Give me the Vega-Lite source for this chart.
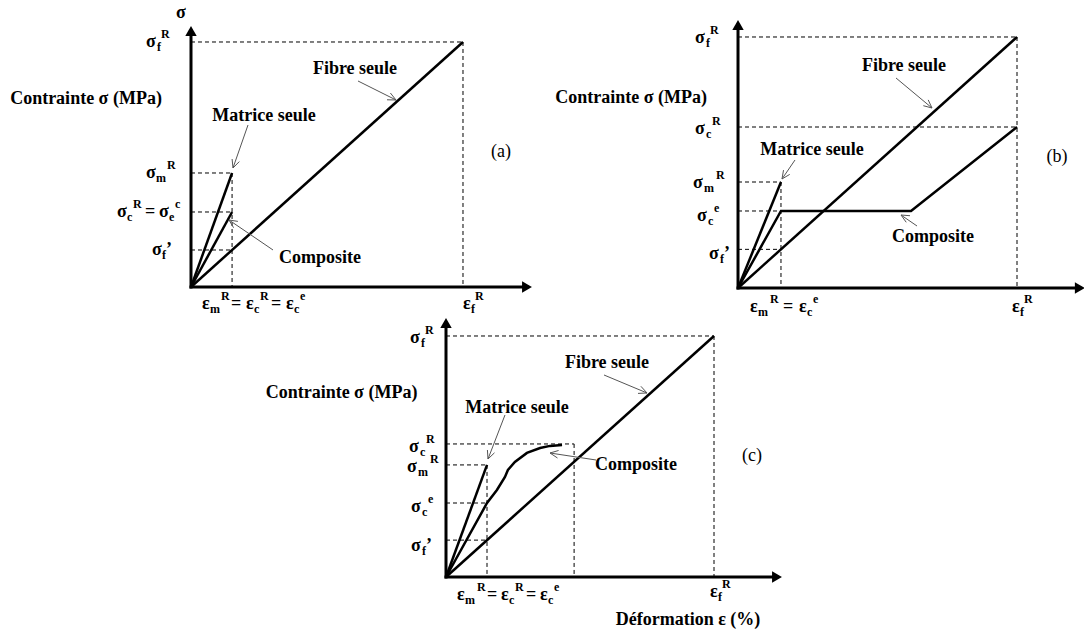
{
"$schema": "https://vega.github.io/schema/vega-lite/v6.json",
"padding": 0,
"width": 1084,
"height": 631,
"background": "white",
"config": {"view": {"stroke": null}, "text": {"font": "'Times New Roman', 'Liberation Serif', 'DejaVu Serif', serif"}},
"datasets": {
"lines": [
{"p":"a","id":"a_ax1","k":"axis","o":0,"x":0,"y":0},{"p":"a","id":"a_ax1","k":"axis","o":1,"x":0,"y":10.449},
{"p":"a","id":"a_ax2","k":"axis","o":0,"x":0,"y":0},{"p":"a","id":"a_ax2","k":"axis","o":1,"x":12.353,"y":0},
{"p":"a","id":"a_f","k":"curve","o":0,"x":0,"y":0},{"p":"a","id":"a_f","k":"curve","o":1,"x":10,"y":10},
{"p":"a","id":"a_m","k":"curve","o":0,"x":0,"y":0},{"p":"a","id":"a_m","k":"curve","o":1,"x":1.51,"y":4.653},
{"p":"a","id":"a_c","k":"curve","o":0,"x":0,"y":0},{"p":"a","id":"a_c","k":"curve","o":1,"x":1.51,"y":3.061},
{"p":"a","id":"a_d1","k":"dash","o":0,"x":0,"y":10},{"p":"a","id":"a_d1","k":"dash","o":1,"x":10,"y":10},
{"p":"a","id":"a_d2","k":"dash","o":0,"x":10,"y":10},{"p":"a","id":"a_d2","k":"dash","o":1,"x":10,"y":0},
{"p":"a","id":"a_d3","k":"dash","o":0,"x":0,"y":4.653},{"p":"a","id":"a_d3","k":"dash","o":1,"x":1.51,"y":4.653},
{"p":"a","id":"a_d4","k":"dash","o":0,"x":1.51,"y":4.653},{"p":"a","id":"a_d4","k":"dash","o":1,"x":1.51,"y":0},
{"p":"a","id":"a_d5","k":"dash","o":0,"x":0,"y":3.061},{"p":"a","id":"a_d5","k":"dash","o":1,"x":1.51,"y":3.061},
{"p":"a","id":"a_d6","k":"dash","o":0,"x":0,"y":1.51},{"p":"a","id":"a_d6","k":"dash","o":1,"x":1.51,"y":1.51},
{"p":"a","id":"a_p1","k":"ptr","o":0,"x":6.140,"y":8.408},{"p":"a","id":"a_p1","k":"ptr","o":1,"x":7.537,"y":7.633},
{"p":"a","id":"a_h1","k":"ptr","o":0,"x":7.331,"y":7.918},{"p":"a","id":"a_h1","k":"ptr","o":1,"x":7.537,"y":7.633},{"p":"a","id":"a_h1","k":"ptr","o":2,"x":7.206,"y":7.641},
{"p":"a","id":"a_p2","k":"ptr","o":0,"x":2.096,"y":6.612},{"p":"a","id":"a_p2","k":"ptr","o":1,"x":1.544,"y":4.857},
{"p":"a","id":"a_h2","k":"ptr","o":0,"x":1.776,"y":5.118},{"p":"a","id":"a_h2","k":"ptr","o":1,"x":1.544,"y":4.857},{"p":"a","id":"a_h2","k":"ptr","o":2,"x":1.511,"y":5.224},
{"p":"a","id":"a_p3","k":"ptr","o":0,"x":3.015,"y":1.510},{"p":"a","id":"a_p3","k":"ptr","o":1,"x":1.397,"y":2.735},
{"p":"a","id":"a_h3","k":"ptr","o":0,"x":1.566,"y":2.420},{"p":"a","id":"a_h3","k":"ptr","o":1,"x":1.397,"y":2.735},{"p":"a","id":"a_h3","k":"ptr","o":2,"x":1.724,"y":2.678},

{"p":"b","id":"b_ax1","k":"axis","o":0,"x":0,"y":0},{"p":"b","id":"b_ax1","k":"axis","o":1,"x":0,"y":10.478},
{"p":"b","id":"b_ax2","k":"axis","o":0,"x":0,"y":0},{"p":"b","id":"b_ax2","k":"axis","o":1,"x":12.25,"y":0},
{"p":"b","id":"b_f","k":"curve","o":0,"x":0,"y":0},{"p":"b","id":"b_f","k":"curve","o":1,"x":10,"y":10},
{"p":"b","id":"b_m","k":"curve","o":0,"x":0,"y":0},{"p":"b","id":"b_m","k":"curve","o":1,"x":1.54,"y":4.223},
{"p":"b","id":"b_c","k":"curve","o":0,"x":0,"y":0},{"p":"b","id":"b_c","k":"curve","o":1,"x":1.54,"y":3.068},{"p":"b","id":"b_c","k":"curve","o":2,"x":6.201,"y":3.068},{"p":"b","id":"b_c","k":"curve","o":3,"x":10,"y":6.414},
{"p":"b","id":"b_d1","k":"dash","o":0,"x":0,"y":10},{"p":"b","id":"b_d1","k":"dash","o":1,"x":10,"y":10},
{"p":"b","id":"b_d2","k":"dash","o":0,"x":10,"y":10},{"p":"b","id":"b_d2","k":"dash","o":1,"x":10,"y":0},
{"p":"b","id":"b_d3","k":"dash","o":0,"x":0,"y":6.414},{"p":"b","id":"b_d3","k":"dash","o":1,"x":10,"y":6.414},
{"p":"b","id":"b_d4","k":"dash","o":0,"x":0,"y":4.223},{"p":"b","id":"b_d4","k":"dash","o":1,"x":1.54,"y":4.223},
{"p":"b","id":"b_d5","k":"dash","o":0,"x":1.54,"y":4.223},{"p":"b","id":"b_d5","k":"dash","o":1,"x":1.54,"y":0},
{"p":"b","id":"b_d6","k":"dash","o":0,"x":0,"y":3.068},{"p":"b","id":"b_d6","k":"dash","o":1,"x":1.54,"y":3.068},
{"p":"b","id":"b_d7","k":"dash","o":0,"x":0,"y":1.54},{"p":"b","id":"b_d7","k":"dash","o":1,"x":1.54,"y":1.54},
{"p":"b","id":"b_p1","k":"ptr","o":0,"x":5.663,"y":8.367},{"p":"b","id":"b_p1","k":"ptr","o":1,"x":6.953,"y":7.171},
{"p":"b","id":"b_h1","k":"ptr","o":0,"x":6.817,"y":7.494},{"p":"b","id":"b_h1","k":"ptr","o":1,"x":6.953,"y":7.171},{"p":"b","id":"b_h1","k":"ptr","o":2,"x":6.642,"y":7.263},
{"p":"b","id":"b_p2","k":"ptr","o":0,"x":2.043,"y":5.100},{"p":"b","id":"b_p2","k":"ptr","o":1,"x":1.577,"y":4.343},
{"p":"b","id":"b_h2","k":"ptr","o":0,"x":1.853,"y":4.526},{"p":"b","id":"b_h2","k":"ptr","o":1,"x":1.577,"y":4.343},{"p":"b","id":"b_h2","k":"ptr","o":2,"x":1.631,"y":4.697},
{"p":"b","id":"b_p3","k":"ptr","o":0,"x":6.416,"y":2.470},{"p":"b","id":"b_p3","k":"ptr","o":1,"x":5.842,"y":2.908},
{"p":"b","id":"b_h3","k":"ptr","o":0,"x":6.029,"y":2.618},{"p":"b","id":"b_h3","k":"ptr","o":1,"x":5.842,"y":2.908},{"p":"b","id":"b_h3","k":"ptr","o":2,"x":6.165,"y":2.880},

{"p":"c","id":"c_ax1","k":"axis","o":0,"x":0,"y":0},{"p":"c","id":"c_ax1","k":"axis","o":1,"x":0,"y":10.539},
{"p":"c","id":"c_ax2","k":"axis","o":0,"x":0,"y":0},{"p":"c","id":"c_ax2","k":"axis","o":1,"x":12.351,"y":0},
{"p":"c","id":"c_f","k":"curve","o":0,"x":0,"y":0},{"p":"c","id":"c_f","k":"curve","o":1,"x":10,"y":10},
{"p":"c","id":"c_m","k":"curve","o":0,"x":0,"y":0},{"p":"c","id":"c_m","k":"curve","o":1,"x":1.53,"y":4.65},
{"p":"c","id":"c_c","k":"curve","o":0,"x":0,"y":0},{"p":"c","id":"c_c","k":"curve","o":1,"x":1.53,"y":3.07},{"p":"c","id":"c_c","k":"curve","o":2,"x":1.90,"y":3.61},{"p":"c","id":"c_c","k":"curve","o":3,"x":2.20,"y":4.15},{"p":"c","id":"c_c","k":"curve","o":4,"x":2.31,"y":4.44},{"p":"c","id":"c_c","k":"curve","o":5,"x":2.57,"y":4.77},{"p":"c","id":"c_c","k":"curve","o":6,"x":3.02,"y":5.15},{"p":"c","id":"c_c","k":"curve","o":7,"x":3.51,"y":5.35},{"p":"c","id":"c_c","k":"curve","o":8,"x":3.88,"y":5.44},{"p":"c","id":"c_c","k":"curve","o":9,"x":4.33,"y":5.48},
{"p":"c","id":"c_d1","k":"dash","o":0,"x":0,"y":10},{"p":"c","id":"c_d1","k":"dash","o":1,"x":10,"y":10},
{"p":"c","id":"c_d2","k":"dash","o":0,"x":10,"y":10},{"p":"c","id":"c_d2","k":"dash","o":1,"x":10,"y":0},
{"p":"c","id":"c_d3","k":"dash","o":0,"x":0,"y":5.52},{"p":"c","id":"c_d3","k":"dash","o":1,"x":4.78,"y":5.52},
{"p":"c","id":"c_d4","k":"dash","o":0,"x":4.78,"y":5.52},{"p":"c","id":"c_d4","k":"dash","o":1,"x":4.78,"y":0},
{"p":"c","id":"c_d5","k":"dash","o":0,"x":0,"y":4.65},{"p":"c","id":"c_d5","k":"dash","o":1,"x":1.53,"y":4.65},
{"p":"c","id":"c_d6","k":"dash","o":0,"x":1.53,"y":4.65},{"p":"c","id":"c_d6","k":"dash","o":1,"x":1.53,"y":0},
{"p":"c","id":"c_d7","k":"dash","o":0,"x":0,"y":3.07},{"p":"c","id":"c_d7","k":"dash","o":1,"x":1.53,"y":3.07},
{"p":"c","id":"c_d8","k":"dash","o":0,"x":0,"y":1.53},{"p":"c","id":"c_d8","k":"dash","o":1,"x":1.53,"y":1.53},
{"p":"c","id":"c_p1","k":"ptr","o":0,"x":5.896,"y":8.382},{"p":"c","id":"c_p1","k":"ptr","o":1,"x":7.500,"y":7.635},
{"p":"c","id":"c_h1","k":"ptr","o":0,"x":7.272,"y":7.913},{"p":"c","id":"c_h1","k":"ptr","o":1,"x":7.500,"y":7.635},{"p":"c","id":"c_h1","k":"ptr","o":2,"x":7.164,"y":7.618},
{"p":"c","id":"c_p2","k":"ptr","o":0,"x":2.201,"y":6.722},{"p":"c","id":"c_p2","k":"ptr","o":1,"x":1.567,"y":4.896},
{"p":"c","id":"c_h2","k":"ptr","o":0,"x":1.810,"y":5.154},{"p":"c","id":"c_h2","k":"ptr","o":1,"x":1.567,"y":4.896},{"p":"c","id":"c_h2","k":"ptr","o":2,"x":1.545,"y":5.270},
{"p":"c","id":"c_p3","k":"ptr","o":0,"x":5.597,"y":4.855},{"p":"c","id":"c_p3","k":"ptr","o":1,"x":3.881,"y":5.145},
{"p":"c","id":"c_h3","k":"ptr","o":0,"x":4.160,"y":4.938},{"p":"c","id":"c_h3","k":"ptr","o":1,"x":3.881,"y":5.145},{"p":"c","id":"c_h3","k":"ptr","o":2,"x":4.201,"y":5.249}
],
"heads": [
{"p":"a","d":"up","x":0,"y":10.449},{"p":"a","d":"right","x":12.353,"y":0},
{"p":"b","d":"up","x":0,"y":10.478},{"p":"b","d":"right","x":12.25,"y":0},
{"p":"c","d":"up","x":0,"y":10.539},{"p":"c","d":"right","x":12.351,"y":0}
],
"segs": [
{"p":"a","r":"b","t":"σ","x":-0.551,"y":11.184},
{"p":"a","r":"b","t":"σ","x":-1.654,"y":10.0},{"p":"a","r":"s","t":"f","x":-1.250,"y":10.0},{"p":"a","r":"p","t":"R","x":-1.103,"y":10.0},
{"p":"a","r":"b","t":"σ","x":-1.654,"y":4.653},{"p":"a","r":"s","t":"m","x":-1.287,"y":4.653},{"p":"a","r":"p","t":"R","x":-0.882,"y":4.653},
{"p":"a","r":"b","t":"σ","x":-2.721,"y":3.061},{"p":"a","r":"s","t":"c","x":-2.353,"y":3.061},{"p":"a","r":"p","t":"R","x":-2.132,"y":3.061},{"p":"a","r":"b","t":"=","x":-1.691,"y":3.061},{"p":"a","r":"b","t":"σ","x":-1.176,"y":3.061},{"p":"a","r":"s","t":"e","x":-0.809,"y":3.061},{"p":"a","r":"p","t":"c","x":-0.588,"y":3.061},
{"p":"a","r":"b","t":"σ","x":-1.434,"y":1.510},{"p":"a","r":"s","t":"f","x":-1.066,"y":1.510},{"p":"a","r":"b","t":"’","x":-0.919,"y":1.510},
{"p":"a","r":"b","t":"ε","x":0.404,"y":-0.694},{"p":"a","r":"s","t":"m","x":0.699,"y":-0.694},{"p":"a","r":"p","t":"R","x":1.103,"y":-0.694},{"p":"a","r":"b","t":"=","x":1.471,"y":-0.694},{"p":"a","r":"b","t":"ε","x":2.022,"y":-0.694},{"p":"a","r":"s","t":"c","x":2.316,"y":-0.694},{"p":"a","r":"p","t":"R","x":2.537,"y":-0.694},{"p":"a","r":"b","t":"=","x":2.941,"y":-0.694},{"p":"a","r":"b","t":"ε","x":3.493,"y":-0.694},{"p":"a","r":"s","t":"c","x":3.787,"y":-0.694},{"p":"a","r":"p","t":"e","x":4.007,"y":-0.694},
{"p":"a","r":"b","t":"ε","x":10.0,"y":-0.694},{"p":"a","r":"s","t":"f","x":10.294,"y":-0.694},{"p":"a","r":"p","t":"R","x":10.441,"y":-0.694},

{"p":"b","r":"b","t":"σ","x":-1.541,"y":9.960},{"p":"b","r":"s","t":"f","x":-1.147,"y":9.960},{"p":"b","r":"p","t":"R","x":-1.004,"y":9.960},
{"p":"b","r":"b","t":"σ","x":-1.541,"y":6.335},{"p":"b","r":"s","t":"c","x":-1.147,"y":6.335},{"p":"b","r":"p","t":"R","x":-0.932,"y":6.335},
{"p":"b","r":"b","t":"σ","x":-1.613,"y":4.183},{"p":"b","r":"s","t":"m","x":-1.219,"y":4.183},{"p":"b","r":"p","t":"R","x":-0.789,"y":4.183},
{"p":"b","r":"b","t":"σ","x":-1.470,"y":2.869},{"p":"b","r":"s","t":"c","x":-1.075,"y":2.869},{"p":"b","r":"p","t":"e","x":-0.860,"y":2.869},
{"p":"b","r":"b","t":"σ","x":-1.039,"y":1.355},{"p":"b","r":"s","t":"f","x":-0.645,"y":1.355},{"p":"b","r":"b","t":"’","x":-0.502,"y":1.355},
{"p":"b","r":"b","t":"ε","x":0.430,"y":-0.757},{"p":"b","r":"s","t":"m","x":0.717,"y":-0.757},{"p":"b","r":"p","t":"R","x":1.147,"y":-0.757},{"p":"b","r":"b","t":"=","x":1.613,"y":-0.757},{"p":"b","r":"b","t":"ε","x":2.186,"y":-0.757},{"p":"b","r":"s","t":"c","x":2.473,"y":-0.757},{"p":"b","r":"p","t":"e","x":2.688,"y":-0.757},
{"p":"b","r":"b","t":"ε","x":9.821,"y":-0.757},{"p":"b","r":"s","t":"f","x":10.108,"y":-0.757},{"p":"b","r":"p","t":"R","x":10.251,"y":-0.757},

{"p":"c","r":"b","t":"σ","x":-1.343,"y":9.917},{"p":"c","r":"s","t":"f","x":-0.933,"y":9.917},{"p":"c","r":"p","t":"R","x":-0.784,"y":9.917},
{"p":"c","r":"b","t":"σ","x":-1.381,"y":5.394},{"p":"c","r":"s","t":"c","x":-0.970,"y":5.394},{"p":"c","r":"p","t":"R","x":-0.746,"y":5.394},
{"p":"c","r":"b","t":"σ","x":-1.455,"y":4.564},{"p":"c","r":"s","t":"m","x":-1.045,"y":4.564},{"p":"c","r":"p","t":"R","x":-0.597,"y":4.564},
{"p":"c","r":"b","t":"σ","x":-1.306,"y":2.905},{"p":"c","r":"s","t":"c","x":-0.896,"y":2.905},{"p":"c","r":"p","t":"e","x":-0.672,"y":2.905},
{"p":"c","r":"b","t":"σ","x":-1.306,"y":1.286},{"p":"c","r":"s","t":"f","x":-0.896,"y":1.286},{"p":"c","r":"b","t":"’","x":-0.746,"y":1.286},
{"p":"c","r":"b","t":"ε","x":0.410,"y":-0.747},{"p":"c","r":"s","t":"m","x":0.709,"y":-0.747},{"p":"c","r":"p","t":"R","x":1.157,"y":-0.747},{"p":"c","r":"b","t":"=","x":1.530,"y":-0.747},{"p":"c","r":"b","t":"ε","x":2.052,"y":-0.747},{"p":"c","r":"s","t":"c","x":2.351,"y":-0.747},{"p":"c","r":"p","t":"R","x":2.575,"y":-0.747},{"p":"c","r":"b","t":"=","x":2.985,"y":-0.747},{"p":"c","r":"b","t":"ε","x":3.507,"y":-0.747},{"p":"c","r":"s","t":"c","x":3.806,"y":-0.747},{"p":"c","r":"p","t":"e","x":4.030,"y":-0.747},
{"p":"c","r":"b","t":"ε","x":9.851,"y":-0.622},{"p":"c","r":"s","t":"f","x":10.149,"y":-0.622},{"p":"c","r":"p","t":"R","x":10.299,"y":-0.622}
],
"labels": [
{"p":"a","w":"b","t":"Contrainte σ (MPa)","x":-3.860,"y":7.673},
{"p":"a","w":"b","t":"Fibre seule","x":6.029,"y":8.898},
{"p":"a","w":"b","t":"Matrice seule","x":2.684,"y":6.980},
{"p":"a","w":"b","t":"Composite","x":4.743,"y":1.184},
{"p":"a","w":"n","t":"(a)","x":11.397,"y":5.510},
{"p":"b","w":"b","t":"Contrainte σ (MPa)","x":-3.835,"y":7.570},
{"p":"b","w":"b","t":"Fibre seule","x":5.950,"y":8.845},
{"p":"b","w":"b","t":"Matrice seule","x":2.652,"y":5.498},
{"p":"b","w":"b","t":"Composite","x":6.989,"y":2.032},
{"p":"b","w":"n","t":"(b)","x":11.434,"y":5.219},
{"p":"c","w":"b","t":"Contrainte σ (MPa)","x":-3.899,"y":7.614},
{"p":"c","w":"b","t":"Fibre seule","x":6.007,"y":8.880},
{"p":"c","w":"b","t":"Matrice seule","x":2.649,"y":7.012},
{"p":"c","w":"b","t":"Composite","x":7.090,"y":4.647},
{"p":"c","w":"n","t":"(c)","x":11.418,"y":5.021},
{"p":"c","w":"b","t":"Déformation ε (%)","x":9.030,"y":-1.784}
]
},
"layer": [
{
"encoding": {
"x": {"field":"x","type":"quantitative","scale":{"domain":[-7.022,32.831],"nice":false,"zero":false},"axis":null},
"y": {"field":"y","type":"quantitative","scale":{"domain":[-14.041,11.714],"nice":false,"zero":false},"axis":null}
},
"layer": [
{"data":{"name":"lines"},"transform":[{"filter":"datum.p==='a' && datum.k==='dash'"}],"mark":{"type":"line","color":"black","strokeWidth":1,"strokeDash":[4,3]},"encoding":{"detail":{"field":"id"},"order":{"field":"o"}}},
{"data":{"name":"lines"},"transform":[{"filter":"datum.p==='a' && datum.k==='curve'"}],"mark":{"type":"line","color":"black","strokeWidth":2.5},"encoding":{"detail":{"field":"id"},"order":{"field":"o"}}},
{"data":{"name":"lines"},"transform":[{"filter":"datum.p==='a' && datum.k==='axis'"}],"mark":{"type":"line","color":"black","strokeWidth":3,"strokeCap":"square"},"encoding":{"detail":{"field":"id"},"order":{"field":"o"}}},
{"data":{"name":"lines"},"transform":[{"filter":"datum.p==='a' && datum.k==='ptr'"}],"mark":{"type":"line","color":"#555555","strokeWidth":1},"encoding":{"detail":{"field":"id"},"order":{"field":"o"}}},
{"data":{"name":"heads"},"transform":[{"filter":"datum.p==='a' && datum.d==='up'"}],"mark":{"type":"point","shape":"triangle-up","filled":true,"color":"black","opacity":1,"size":130}},
{"data":{"name":"heads"},"transform":[{"filter":"datum.p==='a' && datum.d==='right'"}],"mark":{"type":"point","shape":"triangle-right","filled":true,"color":"black","opacity":1,"size":130}},
{"data":{"name":"segs"},"transform":[{"filter":"datum.p==='a' && datum.r==='b'"}],"mark":{"type":"text","fontWeight":"bold","fontSize":18,"align":"left","baseline":"middle","color":"black"},"encoding":{"text":{"field":"t"}}},
{"data":{"name":"segs"},"transform":[{"filter":"datum.p==='a' && datum.r==='s'"}],"mark":{"type":"text","fontWeight":"bold","fontSize":12,"align":"left","baseline":"middle","dy":5,"color":"black"},"encoding":{"text":{"field":"t"}}},
{"data":{"name":"segs"},"transform":[{"filter":"datum.p==='a' && datum.r==='p'"}],"mark":{"type":"text","fontWeight":"bold","fontSize":12,"align":"left","baseline":"middle","dy":-8,"color":"black"},"encoding":{"text":{"field":"t"}}},
{"data":{"name":"labels"},"transform":[{"filter":"datum.p==='a' && datum.w==='b'"}],"mark":{"type":"text","fontWeight":"bold","fontSize":18,"align":"center","baseline":"middle","color":"black"},"encoding":{"text":{"field":"t"}}},
{"data":{"name":"labels"},"transform":[{"filter":"datum.p==='a' && datum.w==='n'"}],"mark":{"type":"text","fontWeight":"normal","fontSize":18,"align":"center","baseline":"middle","color":"black"},"encoding":{"text":{"field":"t"}}}
]
},
{
"encoding": {
"x": {"field":"x","type":"quantitative","scale":{"domain":[-26.452,12.401],"nice":false,"zero":false},"axis":null},
"y": {"field":"y","type":"quantitative","scale":{"domain":[-13.665,11.474],"nice":false,"zero":false},"axis":null}
},
"layer": [
{"data":{"name":"lines"},"transform":[{"filter":"datum.p==='b' && datum.k==='dash'"}],"mark":{"type":"line","color":"black","strokeWidth":1,"strokeDash":[4,3]},"encoding":{"detail":{"field":"id"},"order":{"field":"o"}}},
{"data":{"name":"lines"},"transform":[{"filter":"datum.p==='b' && datum.k==='curve'"}],"mark":{"type":"line","color":"black","strokeWidth":2.5},"encoding":{"detail":{"field":"id"},"order":{"field":"o"}}},
{"data":{"name":"lines"},"transform":[{"filter":"datum.p==='b' && datum.k==='axis'"}],"mark":{"type":"line","color":"black","strokeWidth":3,"strokeCap":"square"},"encoding":{"detail":{"field":"id"},"order":{"field":"o"}}},
{"data":{"name":"lines"},"transform":[{"filter":"datum.p==='b' && datum.k==='ptr'"}],"mark":{"type":"line","color":"#555555","strokeWidth":1},"encoding":{"detail":{"field":"id"},"order":{"field":"o"}}},
{"data":{"name":"heads"},"transform":[{"filter":"datum.p==='b' && datum.d==='up'"}],"mark":{"type":"point","shape":"triangle-up","filled":true,"color":"black","opacity":1,"size":130}},
{"data":{"name":"heads"},"transform":[{"filter":"datum.p==='b' && datum.d==='right'"}],"mark":{"type":"point","shape":"triangle-right","filled":true,"color":"black","opacity":1,"size":130}},
{"data":{"name":"segs"},"transform":[{"filter":"datum.p==='b' && datum.r==='b'"}],"mark":{"type":"text","fontWeight":"bold","fontSize":18,"align":"left","baseline":"middle","color":"black"},"encoding":{"text":{"field":"t"}}},
{"data":{"name":"segs"},"transform":[{"filter":"datum.p==='b' && datum.r==='s'"}],"mark":{"type":"text","fontWeight":"bold","fontSize":12,"align":"left","baseline":"middle","dy":5,"color":"black"},"encoding":{"text":{"field":"t"}}},
{"data":{"name":"segs"},"transform":[{"filter":"datum.p==='b' && datum.r==='p'"}],"mark":{"type":"text","fontWeight":"bold","fontSize":12,"align":"left","baseline":"middle","dy":-8,"color":"black"},"encoding":{"text":{"field":"t"}}},
{"data":{"name":"labels"},"transform":[{"filter":"datum.p==='b' && datum.w==='b'"}],"mark":{"type":"text","fontWeight":"bold","fontSize":18,"align":"center","baseline":"middle","color":"black"},"encoding":{"text":{"field":"t"}}},
{"data":{"name":"labels"},"transform":[{"filter":"datum.p==='b' && datum.w==='n'"}],"mark":{"type":"text","fontWeight":"normal","fontSize":18,"align":"center","baseline":"middle","color":"black"},"encoding":{"text":{"field":"t"}}}
]
},
{
"encoding": {
"x": {"field":"x","type":"quantitative","scale":{"domain":[-16.642,23.806],"nice":false,"zero":false},"axis":null},
"y": {"field":"y","type":"quantitative","scale":{"domain":[-2.241,23.942],"nice":false,"zero":false},"axis":null}
},
"layer": [
{"data":{"name":"lines"},"transform":[{"filter":"datum.p==='c' && datum.k==='dash'"}],"mark":{"type":"line","color":"black","strokeWidth":1,"strokeDash":[4,3]},"encoding":{"detail":{"field":"id"},"order":{"field":"o"}}},
{"data":{"name":"lines"},"transform":[{"filter":"datum.p==='c' && datum.k==='curve'"}],"mark":{"type":"line","color":"black","strokeWidth":2.5},"encoding":{"detail":{"field":"id"},"order":{"field":"o"}}},
{"data":{"name":"lines"},"transform":[{"filter":"datum.p==='c' && datum.k==='axis'"}],"mark":{"type":"line","color":"black","strokeWidth":3,"strokeCap":"square"},"encoding":{"detail":{"field":"id"},"order":{"field":"o"}}},
{"data":{"name":"lines"},"transform":[{"filter":"datum.p==='c' && datum.k==='ptr'"}],"mark":{"type":"line","color":"#555555","strokeWidth":1},"encoding":{"detail":{"field":"id"},"order":{"field":"o"}}},
{"data":{"name":"heads"},"transform":[{"filter":"datum.p==='c' && datum.d==='up'"}],"mark":{"type":"point","shape":"triangle-up","filled":true,"color":"black","opacity":1,"size":130}},
{"data":{"name":"heads"},"transform":[{"filter":"datum.p==='c' && datum.d==='right'"}],"mark":{"type":"point","shape":"triangle-right","filled":true,"color":"black","opacity":1,"size":130}},
{"data":{"name":"segs"},"transform":[{"filter":"datum.p==='c' && datum.r==='b'"}],"mark":{"type":"text","fontWeight":"bold","fontSize":18,"align":"left","baseline":"middle","color":"black"},"encoding":{"text":{"field":"t"}}},
{"data":{"name":"segs"},"transform":[{"filter":"datum.p==='c' && datum.r==='s'"}],"mark":{"type":"text","fontWeight":"bold","fontSize":12,"align":"left","baseline":"middle","dy":5,"color":"black"},"encoding":{"text":{"field":"t"}}},
{"data":{"name":"segs"},"transform":[{"filter":"datum.p==='c' && datum.r==='p'"}],"mark":{"type":"text","fontWeight":"bold","fontSize":12,"align":"left","baseline":"middle","dy":-8,"color":"black"},"encoding":{"text":{"field":"t"}}},
{"data":{"name":"labels"},"transform":[{"filter":"datum.p==='c' && datum.w==='b'"}],"mark":{"type":"text","fontWeight":"bold","fontSize":18,"align":"center","baseline":"middle","color":"black"},"encoding":{"text":{"field":"t"}}},
{"data":{"name":"labels"},"transform":[{"filter":"datum.p==='c' && datum.w==='n'"}],"mark":{"type":"text","fontWeight":"normal","fontSize":18,"align":"center","baseline":"middle","color":"black"},"encoding":{"text":{"field":"t"}}}
]
}
],
"resolve": {"scale": {"x": "independent", "y": "independent"}}
}
